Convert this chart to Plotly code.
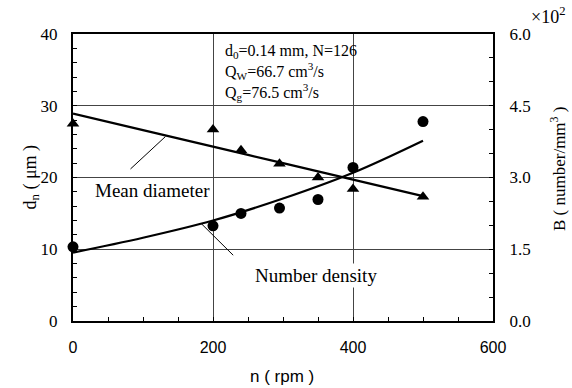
import plotly.graph_objects as go

# Measured data: rotation speed n (rpm)
n_diam = [0, 200, 240, 295, 350, 400, 500]
d_mean = [27.5, 26.7, 23.8, 21.9, 20.0, 18.4, 17.3]          # mean diameter d_n (um)

n_dens = [0, 200, 240, 295, 350, 400, 500]
b_dens = [1.55, 1.99, 2.25, 2.36, 2.54, 3.21, 4.17]          # number density B (x10^2 /mm^3)

# Fitted curves
n_fit = [0, 100, 200, 300, 400, 500]
d_fit = [28.9, 26.6, 24.3, 22.0, 19.7, 17.4]
b_fit = [1.43, 1.74, 2.10, 2.56, 3.10, 3.77]

x_ticks = [0, 200, 400, 600]
y_ticks = [0, 10, 20, 30, 40]
y2_ticks = [0.0, 1.5, 3.0, 4.5, 6.0]

SERIF = "Liberation Serif"
SANS = "Liberation Sans"

fig = go.Figure()

fig.add_trace(go.Scatter(x=n_fit, y=d_fit, mode="lines", line=dict(color="black", width=2.2, shape="spline"),
                         hoverinfo="skip"))
fig.add_trace(go.Scatter(x=n_fit, y=b_fit, mode="lines", yaxis="y2",
                         line=dict(color="black", width=2.2, shape="spline"), hoverinfo="skip"))
fig.add_trace(go.Scatter(x=n_diam, y=d_mean, mode="markers", cliponaxis=False,
                         marker=dict(symbol="triangle-up", size=11, color="black")))
fig.add_trace(go.Scatter(x=n_dens, y=b_dens, mode="markers", yaxis="y2", cliponaxis=False,
                         marker=dict(symbol="circle", size=11, color="black")))

annotations = [
    # parameters block
    dict(x=214, y=34.6, xref="x", yref="y", xanchor="left", yanchor="middle", align="left", showarrow=False,
         text="d<sub>0</sub>=0.14 mm, N=126<br>Q<sub>W</sub>=66.7 cm<sup>3</sup>/s<br>Q<sub>g</sub>=76.5 cm<sup>3</sup>/s",
         font=dict(family=SERIF, size=16, color="black")),
    # curve labels
    dict(x=113, y=18.25, xref="x", yref="y", showarrow=False, text="Mean diameter",
         font=dict(family=SERIF, size=19, color="black")),
    dict(x=347, y=6.4, xref="x", yref="y", showarrow=False, text="Number density", bgcolor="white",
         font=dict(family=SERIF, size=19, color="black")),
    # leader lines
    dict(x=132, y=25.7, xref="x", yref="y", ax=80, ay=21.0, axref="x", ayref="y", text="",
         showarrow=True, arrowhead=0, arrowwidth=1, arrowcolor="black", standoff=0, startstandoff=0),
    dict(x=183, y=2.04 * 40 / 6, xref="x", yref="y", ax=231, ay=8.96, axref="x", ayref="y", text="",
         showarrow=True, arrowhead=0, arrowwidth=1, arrowcolor="black", standoff=0, startstandoff=0),
    # axis titles
    dict(x=0.498, y=-0.195, xref="paper", yref="paper", yanchor="middle", showarrow=False, text="n ( rpm )",
         font=dict(family=SANS, size=17, color="black")),
    dict(x=-0.131, y=0.502, xref="paper", yref="paper", showarrow=False, textangle=-90,
         text="d<sub>n</sub> ( μm )", font=dict(family=SERIF, size=18, color="black")),
    dict(x=1.186, y=0.53, xref="paper", yref="paper", showarrow=False, textangle=-90,
         text="B ( number/mm<sup>3</sup> )", font=dict(family=SERIF, size=17, color="black")),
    dict(x=1.176, y=1.066, xref="paper", yref="paper", xanchor="right", yanchor="middle", showarrow=False,
         text="×10<sup>2</sup>", font=dict(family=SERIF, size=18, color="black")),
]

fig.update_layout(
    width=572, height=388,
    margin=dict(l=73, r=79, t=34, b=67),
    paper_bgcolor="white", plot_bgcolor="white",
    showlegend=False,
    annotations=annotations,
    xaxis=dict(range=[0, 600], tickvals=x_ticks, ticktext=[str(v) for v in x_ticks],
               showline=True, linecolor="black", linewidth=2, mirror=True,
               showgrid=True, gridcolor="#444444", gridwidth=1, zeroline=False,
               ticks="inside", ticklen=4, tickcolor="black",
               minor=dict(dtick=50, ticks="inside", ticklen=4, tickcolor="black", showgrid=False),
               tickfont=dict(family=SANS, size=16, color="black"), ticklabelstandoff=11),
    yaxis=dict(range=[0, 40], tickvals=y_ticks, ticktext=[str(v) for v in y_ticks],
               showline=True, linecolor="black", linewidth=2,
               showgrid=True, gridcolor="#444444", gridwidth=1, zeroline=False,
               ticks="inside", ticklen=4, tickcolor="black",
               minor=dict(dtick=2, ticks="inside", ticklen=4, tickcolor="black", showgrid=False),
               tickfont=dict(family=SERIF, size=17, color="black"), ticklabelstandoff=10),
    yaxis2=dict(range=[0, 6], tickvals=y2_ticks, ticktext=[f"{v:.1f}" for v in y2_ticks],
                overlaying="y", side="right",
                showline=True, linecolor="black", linewidth=2,
                showgrid=False, zeroline=False,
                ticks="inside", ticklen=4, tickcolor="black",
                minor=dict(dtick=0.5, ticks="inside", ticklen=4, tickcolor="black", showgrid=False),
                tickfont=dict(family=SERIF, size=17, color="black"), ticklabelstandoff=11),
)

fig.write_html("out.html")
